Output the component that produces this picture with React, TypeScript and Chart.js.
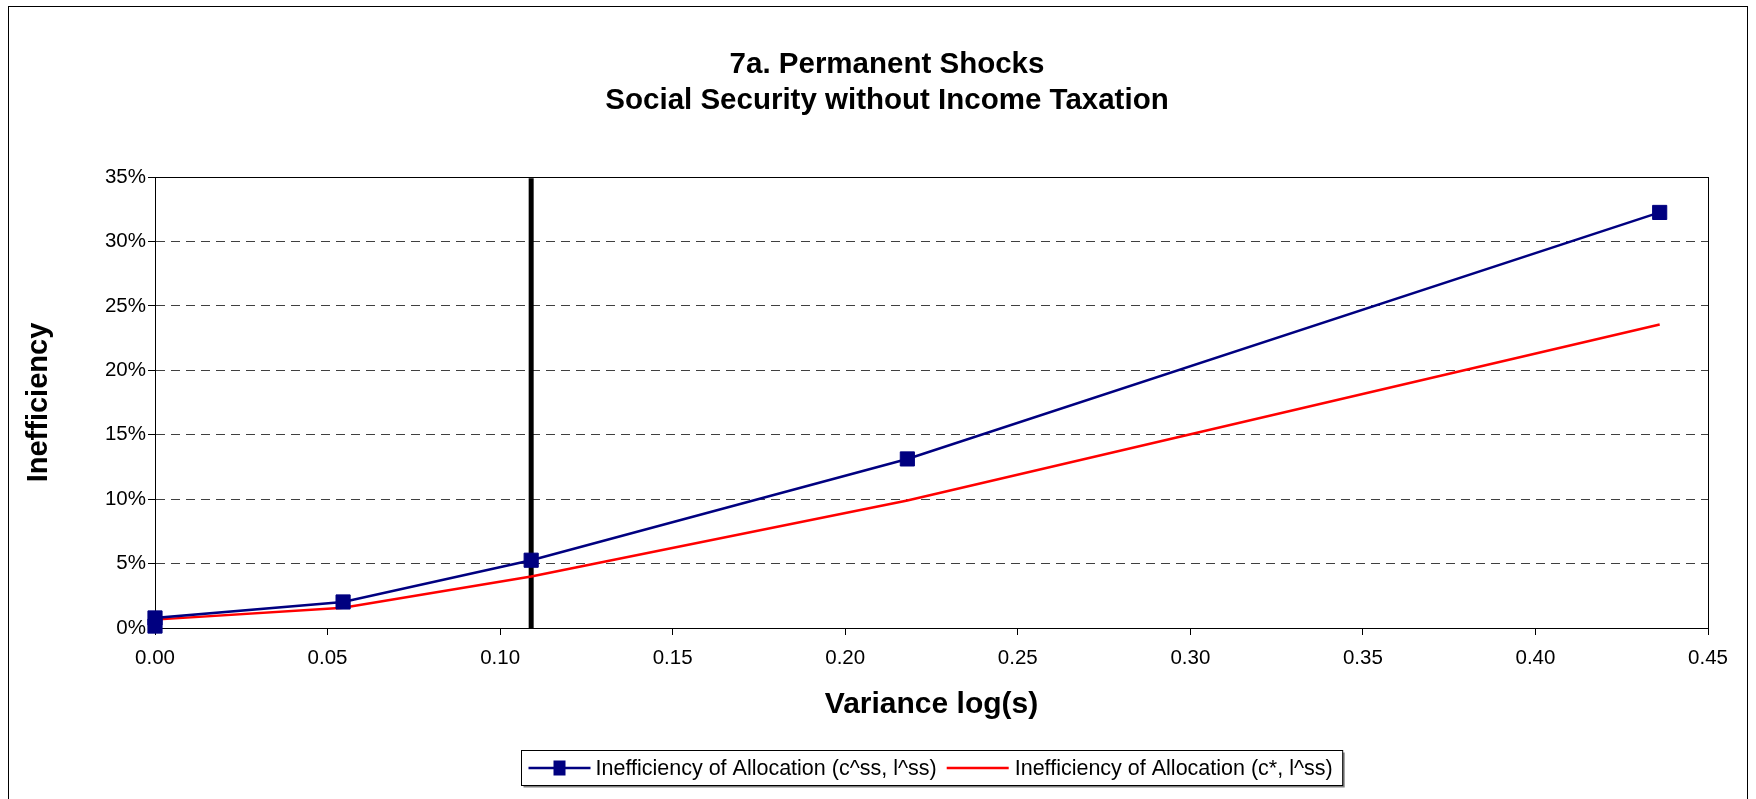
import React, { useEffect, useRef } from 'react';
import { Chart, registerables } from 'chart.js';

Chart.register(...registerables);

// ---- data ----
const titleLines = ['7a. Permanent Shocks', 'Social Security without Income Taxation'];
const xAxisTitle = 'Variance log(s)';
const yAxisTitle = 'Inefficiency';
const seriesNames = ['Inefficiency of Allocation (c^ss, l^ss)', 'Inefficiency of Allocation (c*, l^ss)'];

const blueX = [0, 0, 0.0545, 0.109, 0.218, 0.436];
const blueY = [0.0015, 0.0078, 0.0202, 0.0526, 0.1312, 0.3225];
const redX = [0, 0.0545, 0.109, 0.218, 0.436];
const redY = [0.0065, 0.0158, 0.04, 0.099, 0.2355];
const refLineX = [0.109, 0.109];
const refLineY = [0, 0.349];

const xMin = 0;
const xMax = 0.45;
const xStep = 0.05;
const yMin = 0;
const yMax = 0.35;
const yStep = 0.05;

const BLUE = '#000080';
const RED = '#FF0000';
const FONT = '"Liberation Sans", Arial, Helvetica, sans-serif';

const toPts = (xs: number[], ys: number[]) => xs.map((x, i) => ({ x, y: ys[i] }));

const decorPlugin = {
  id: 'decor',
  beforeDraw(chart: any) {
    const { ctx, width, height } = chart;
    ctx.save();
    ctx.fillStyle = '#ffffff';
    ctx.fillRect(0, 0, width, height);
    ctx.strokeStyle = '#000000';
    ctx.lineWidth = 1;
    ctx.strokeRect(8.5, 6.5, width - 17, height + 20);
    ctx.restore();
  },
  beforeDatasetsDraw(chart: any) {
    const { ctx, chartArea: a } = chart;
    ctx.save();
    ctx.strokeStyle = '#000000';
    ctx.lineWidth = 1;
    ctx.strokeRect(Math.round(a.left) + 0.5, Math.round(a.top) + 0.5, Math.round(a.right - a.left), Math.round(a.bottom - a.top));
    ctx.restore();
  },
  afterDraw(chart: any) {
    const { ctx, chartArea: a, height } = chart;
    ctx.save();
    // title
    ctx.fillStyle = '#000000';
    ctx.font = `bold 29.5px ${FONT}`;
    ctx.textAlign = 'center';
    ctx.textBaseline = 'middle';
    ctx.fillText(titleLines[0], 887, 64.5);
    ctx.fillText(titleLines[1], 887, 100.5);

    // legend
    ctx.font = `21.5px ${FONT}`;
    const w1 = ctx.measureText(seriesNames[0]).width;
    const w2 = ctx.measureText(seriesNames[1]).width;
    const sample = 62, pad = 7, gap = 5, itemGap = 10, gap2 = 6, padR = 10;
    const total = pad + sample + gap + w1 + itemGap + sample + gap2 + w2 + padR;
    const cx = (a.left + a.right) / 2;
    const bx = Math.round(cx - total / 2) + 0.5;
    const by = height - 49 + 0.5;
    const bh = 35;
    ctx.fillStyle = '#808080';
    ctx.fillRect(bx + 2, by + 2, total, bh);
    ctx.fillStyle = '#ffffff';
    ctx.fillRect(bx, by, total, bh);
    ctx.strokeStyle = '#000000';
    ctx.lineWidth = 1;
    ctx.strokeRect(bx, by, total, bh);
    const cy = by + bh / 2;
    let x = bx + pad;
    ctx.strokeStyle = BLUE;
    ctx.lineWidth = 2.5;
    ctx.beginPath();
    ctx.moveTo(x, cy);
    ctx.lineTo(x + sample, cy);
    ctx.stroke();
    ctx.fillStyle = BLUE;
    ctx.fillRect(x + sample / 2 - 6, cy - 7.5, 12, 15);
    x += sample + gap;
    ctx.fillStyle = '#000000';
    ctx.textAlign = 'left';
    ctx.textBaseline = 'middle';
    ctx.fillText(seriesNames[0], x, cy + 1);
    x += w1 + itemGap;
    ctx.strokeStyle = RED;
    ctx.lineWidth = 2.5;
    ctx.beginPath();
    ctx.moveTo(x, cy);
    ctx.lineTo(x + sample, cy);
    ctx.stroke();
    x += sample + gap2;
    ctx.fillStyle = '#000000';
    ctx.fillText(seriesNames[1], x, cy + 1);
    ctx.restore();
  },
};

export default function App() {
  const canvasRef = useRef<HTMLCanvasElement | null>(null);

  useEffect(() => {
    const canvas = canvasRef.current;
    if (!canvas) return;
    const chart = new Chart(canvas, {
      type: 'line',
      data: {
        datasets: [
          {
            label: seriesNames[0],
            data: toPts(blueX, blueY),
            borderColor: BLUE,
            backgroundColor: BLUE,
            borderWidth: 2.5,
            pointStyle: 'rect',
            pointRadius: 10,
            pointBorderWidth: 1,
            pointBorderColor: BLUE,
            pointBackgroundColor: BLUE,
            tension: 0,
            clip: false,
          },
          {
            label: seriesNames[1],
            data: toPts(redX, redY),
            borderColor: RED,
            backgroundColor: RED,
            borderWidth: 2.5,
            pointRadius: 0,
            tension: 0,
            clip: false,
          },
          {
            label: 'ref',
            data: toPts(refLineX, refLineY),
            borderColor: '#000000',
            backgroundColor: '#000000',
            borderWidth: 5,
            borderCapStyle: 'butt',
            pointRadius: 0,
            tension: 0,
          },
        ],
      },
      options: {
        animation: false,
        responsive: false,
        devicePixelRatio: 1,
        layout: { padding: { left: 8, right: 48, top: 177, bottom: 60 } },
        plugins: {
          legend: { display: false },
          title: { display: false },
          tooltip: { enabled: false },
        },
        scales: {
          x: {
            type: 'linear',
            min: xMin,
            max: xMax,
            afterFit: (s: any) => { s.height = 111; },
            ticks: {
              stepSize: xStep,
              color: '#000000',
              font: { family: FONT, size: 20.5 },
              padding: 11,
              maxRotation: 0,
              callback: (v: any) => Number(v).toFixed(2),
            },
            grid: {
              drawOnChartArea: false,
              drawTicks: true,
              tickLength: 7,
              tickColor: '#000000',
              tickBorderDash: [],
            },
            border: { display: true, color: '#000000', width: 1 },
            title: {
              display: true,
              text: xAxisTitle,
              color: '#000000',
              font: { family: FONT, size: 30, weight: 'bold' },
              padding: { top: 0, bottom: 16.5 },
            },
          },
          y: {
            min: yMin,
            max: yMax,
            afterFit: (s: any) => { s.width = 147; },
            ticks: {
              stepSize: yStep,
              color: '#000000',
              font: { family: FONT, size: 20.5 },
              padding: 2,
              callback: (v: any) => `${Math.round(Number(v) * 100)}%`,
            },
            grid: {
              color: (c: any) => (c.tick && Math.abs(c.tick.value) < 1e-9 ? 'rgba(0,0,0,0)' : '#404040'),
              lineWidth: 1,
              drawTicks: true,
              tickLength: 7,
              tickColor: '#000000',
              tickBorderDash: [],
            },
            border: { display: true, color: '#000000', width: 1, dash: [9, 6] },
            title: {
              display: true,
              text: yAxisTitle,
              color: '#000000',
              font: { family: FONT, size: 29, weight: 'bold' },
              padding: { top: 13.5, bottom: 10 },
            },
          },
        },
      },
      plugins: [decorPlugin],
    } as any);
    return () => chart.destroy();
  }, []);

  return (
    <div style={{ position: 'fixed', left: 0, top: 0, width: 1756, height: 799, background: '#ffffff' }}>
      <canvas ref={canvasRef} width={1756} height={799} style={{ display: 'block' }} />
    </div>
  );
}
